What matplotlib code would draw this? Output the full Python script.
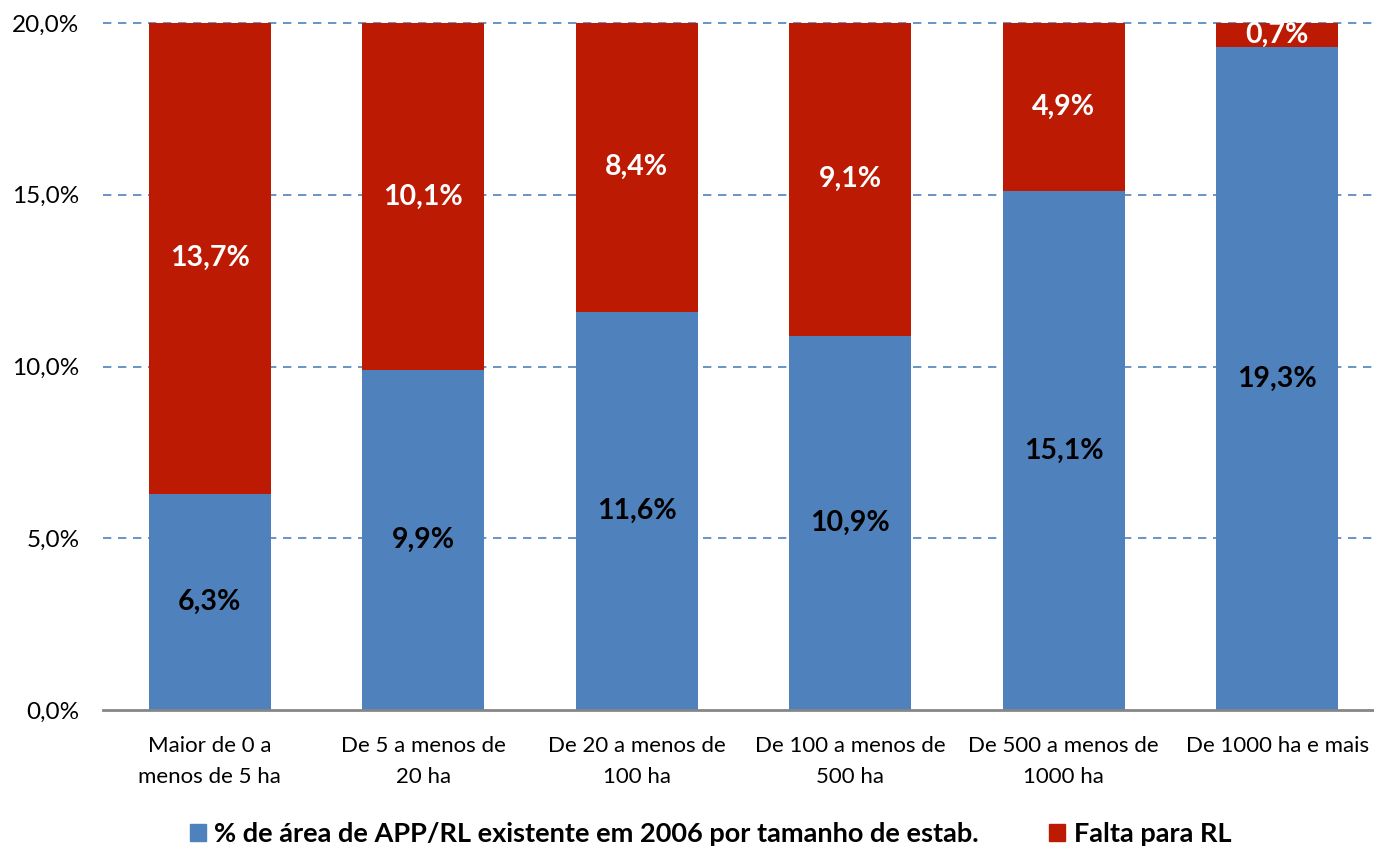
import matplotlib.pyplot as plt
from matplotlib.patches import Patch

categorias = ['Maior de 0 a\nmenos de 5 ha', 'De 5 a menos de\n20 ha', 'De 20 a menos de\n100 ha',
              'De 100 a menos de\n500 ha', 'De 500 a menos de\n1000 ha', 'De 1000 ha e mais\n']
existente = [6.3, 9.9, 11.6, 10.9, 15.1, 19.3]
falta = [13.7, 10.1, 8.4, 9.1, 4.9, 0.7]
yticks = [0, 5, 10, 15, 20]

azul = '#4F81BD'
vermelho = '#BD1A03'

plt.rcParams['font.family'] = ['Lato', 'DejaVu Sans']

fig = plt.figure(figsize=(13.74, 8.49), dpi=100)
ax = fig.add_axes([103 / 1374, 0.1637, 1281 / 1374, 0.8092])

x = range(len(categorias))
ax.bar(x, existente, width=0.57, color=azul, zorder=3)
ax.bar(x, falta, width=0.57, bottom=existente, color=vermelho, zorder=3)

for i in x:
    ax.text(i, existente[i] / 2, f'{existente[i]:.1f}%'.replace('.', ','),
            ha='center', va='center', fontsize=20.5, fontweight='bold', color='black', zorder=4)
    ax.text(i, existente[i] + falta[i] / 2, f'{falta[i]:.1f}%'.replace('.', ','),
            ha='center', va='center', fontsize=20.5, fontweight='bold', color='white', zorder=4)

ax.set_xlim(-0.5, 5.5)
ax.set_ylim(0, 20)
ax.set_yticks(yticks)
ax.set_yticklabels([f'{v:.1f}%'.replace('.', ',') for v in yticks], fontsize=17.5)
ax.set_xticks(list(x))
ax.set_xticklabels(categorias, fontsize=16, linespacing=1.65, va='top')
ax.tick_params(axis='both', length=0)
ax.tick_params(axis='y', pad=17)
ax.tick_params(axis='x', pad=19)

for s in ['left', 'right', 'top']:
    ax.spines[s].set_visible(False)
ax.spines['bottom'].set_color('#868686')
ax.spines['bottom'].set_linewidth(2)
ax.spines['bottom'].set_zorder(5)

for v in yticks[1:]:
    ax.axhline(v, color=azul, linestyle=(0, (5, 4)), linewidth=1.2, zorder=1, clip_on=False)

handles = [Patch(color=azul, label='% de área de APP/RL existente em 2006 por tamanho de estab.'),
           Patch(color=vermelho, label='Falta para RL')]
fig.legend(handles=handles, loc='center', bbox_to_anchor=(0.517, 0.018), ncol=2, frameon=False,
           prop={'size': 19.5, 'weight': 'bold'}, handlelength=0.6, handleheight=0.6,
           handletextpad=0.3, columnspacing=2.6)

fig.savefig('out.png', dpi=100)
